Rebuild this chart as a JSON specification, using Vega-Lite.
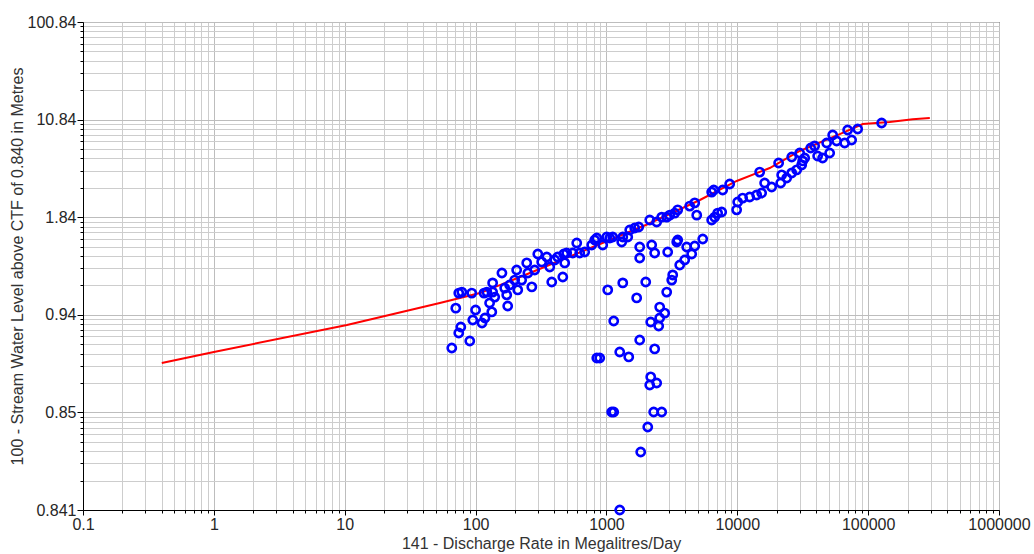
{
  "$schema": "https://vega.github.io/schema/vega-lite/v6.json",
  "width": 916,
  "height": 488,
  "autosize": {"type": "none"},
  "padding": {"left": 83, "top": 22, "right": 35, "bottom": 44},
  "background": "white",
  "config": {
    "view": {"stroke": "#000000", "strokeWidth": 1},
    "axis": {
      "labelFont": "Liberation Sans",
      "titleFont": "Liberation Sans",
      "labelFontSize": 16,
      "titleFontSize": 16,
      "labelColor": "#262626",
      "titleColor": "#333333",
      "titleFontWeight": "normal"
    }
  },
  "datasets": {
    "curve": [
      {"Q": 0.40, "h": 0.0321}, {"Q": 1.0, "h": 0.0416}, {"Q": 10.4, "h": 0.0787},
      {"Q": 53.3, "h": 0.132}, {"Q": 108, "h": 0.167}, {"Q": 260, "h": 0.268},
      {"Q": 973, "h": 0.557}, {"Q": 2000, "h": 0.832}, {"Q": 5180, "h": 1.50},
      {"Q": 9900, "h": 2.35}, {"Q": 17700, "h": 3.19}, {"Q": 30000, "h": 4.77},
      {"Q": 60700, "h": 7.11}, {"Q": 91000, "h": 9.02}, {"Q": 146000, "h": 9.44},
      {"Q": 219000, "h": 10.1}, {"Q": 296000, "h": 10.4}
    ],
    "obs": [
      {"Q": 65.8, "h": 0.0457}, {"Q": 70.6, "h": 0.117}, {"Q": 74.4, "h": 0.167}, {"Q": 78.5, "h": 0.171},
      {"Q": 93.5, "h": 0.167}, {"Q": 77.1, "h": 0.075}, {"Q": 74.4, "h": 0.0651}, {"Q": 90.3, "h": 0.0539},
      {"Q": 100, "h": 0.112}, {"Q": 95.2, "h": 0.0885}, {"Q": 112, "h": 0.0824}, {"Q": 118, "h": 0.0927},
      {"Q": 133, "h": 0.107}, {"Q": 128, "h": 0.132}, {"Q": 122, "h": 0.171}, {"Q": 116, "h": 0.167},
      {"Q": 135, "h": 0.212}, {"Q": 140, "h": 0.152}, {"Q": 159, "h": 0.268}, {"Q": 167, "h": 0.188},
      {"Q": 176, "h": 0.123}, {"Q": 173, "h": 0.16}, {"Q": 182, "h": 0.202}, {"Q": 199, "h": 0.227},
      {"Q": 206, "h": 0.288}, {"Q": 225, "h": 0.227}, {"Q": 246, "h": 0.34}, {"Q": 251, "h": 0.268},
      {"Q": 269, "h": 0.193}, {"Q": 283, "h": 0.288}, {"Q": 299, "h": 0.42}, {"Q": 320, "h": 0.348},
      {"Q": 350, "h": 0.391}, {"Q": 369, "h": 0.309}, {"Q": 382, "h": 0.217}, {"Q": 403, "h": 0.364},
      {"Q": 424, "h": 0.391}, {"Q": 464, "h": 0.244}, {"Q": 480, "h": 0.34}, {"Q": 497, "h": 0.43},
      {"Q": 210, "h": 0.18}, {"Q": 135, "h": 0.171}, {"Q": 472, "h": 0.42}, {"Q": 553, "h": 0.43},
      {"Q": 593, "h": 0.544}, {"Q": 625, "h": 0.43}, {"Q": 682, "h": 0.44}, {"Q": 772, "h": 0.519},
      {"Q": 814, "h": 0.584}, {"Q": 844, "h": 0.612}, {"Q": 937, "h": 0.519}, {"Q": 1005, "h": 0.627},
      {"Q": 1060, "h": 0.612}, {"Q": 1117, "h": 0.627}, {"Q": 1309, "h": 0.557}, {"Q": 1333, "h": 0.627},
      {"Q": 1455, "h": 0.627}, {"Q": 1507, "h": 0.74}, {"Q": 1645, "h": 0.775}, {"Q": 1765, "h": 0.794},
      {"Q": 1796, "h": 0.495}, {"Q": 1796, "h": 0.382}, {"Q": 1997, "h": 0.217}, {"Q": 2143, "h": 0.936},
      {"Q": 2218, "h": 0.519}, {"Q": 2337, "h": 0.43}, {"Q": 2421, "h": 0.893}, {"Q": 2645, "h": 1.0},
      {"Q": 2888, "h": 1.0}, {"Q": 2939, "h": 0.44}, {"Q": 3045, "h": 1.05}, {"Q": 3326, "h": 1.10},
      {"Q": 3506, "h": 1.19}, {"Q": 3210, "h": 0.256}, {"Q": 3155, "h": 0.227}, {"Q": 3446, "h": 0.557},
      {"Q": 3506, "h": 0.584}, {"Q": 3632, "h": 0.324}, {"Q": 3964, "h": 0.364}, {"Q": 4105, "h": 0.495},
      {"Q": 1023, "h": 0.18}, {"Q": 1333, "h": 0.212}, {"Q": 2888, "h": 0.171}, {"Q": 1137, "h": 0.0864},
      {"Q": 1703, "h": 0.149}, {"Q": 4729, "h": 0.507}, {"Q": 5445, "h": 0.598}, {"Q": 4483, "h": 0.42},
      {"Q": 2553, "h": 0.12}, {"Q": 2788, "h": 0.104}, {"Q": 2553, "h": 0.0927}, {"Q": 2509, "h": 0.0768},
      {"Q": 2180, "h": 0.0844}, {"Q": 1796, "h": 0.0552}, {"Q": 2337, "h": 0.0447}, {"Q": 1264, "h": 0.0416},
      {"Q": 1481, "h": 0.037}, {"Q": 844, "h": 0.0361}, {"Q": 889, "h": 0.0361}, {"Q": 2180, "h": 0.0231},
      {"Q": 2143, "h": 0.0191}, {"Q": 2421, "h": 0.02}, {"Q": 1097, "h": 0.0101}, {"Q": 1137, "h": 0.0101},
      {"Q": 2297, "h": 0.0101}, {"Q": 2645, "h": 0.0101}, {"Q": 2069, "h": 0.00708}, {"Q": 1828, "h": 0.00393},
      {"Q": 1264, "h": 0.001}, {"Q": 4729, "h": 1.40}, {"Q": 4899, "h": 1.05}, {"Q": 6372, "h": 1.81},
      {"Q": 6607, "h": 1.90}, {"Q": 6372, "h": 0.936}, {"Q": 6716, "h": 1.0}, {"Q": 7079, "h": 1.10},
      {"Q": 7603, "h": 1.13}, {"Q": 7734, "h": 1.90}, {"Q": 8748, "h": 2.19}, {"Q": 9886, "h": 1.19},
      {"Q": 10070, "h": 1.43}, {"Q": 10990, "h": 1.57}, {"Q": 12440, "h": 1.61}, {"Q": 14060, "h": 1.69},
      {"Q": 14830, "h": 2.90}, {"Q": 15350, "h": 1.77}, {"Q": 16180, "h": 2.24}, {"Q": 18310, "h": 2.04},
      {"Q": 20700, "h": 3.59}, {"Q": 21470, "h": 2.24}, {"Q": 21840, "h": 2.71}, {"Q": 23850, "h": 2.52},
      {"Q": 26070, "h": 2.84}, {"Q": 26070, "h": 4.14}, {"Q": 28430, "h": 3.05}, {"Q": 29970, "h": 4.55},
      {"Q": 31050, "h": 3.43}, {"Q": 31600, "h": 3.77}, {"Q": 32740, "h": 4.04}, {"Q": 36390, "h": 5.12},
      {"Q": 38990, "h": 5.37}, {"Q": 41120, "h": 4.24}, {"Q": 44870, "h": 4.04}, {"Q": 48190, "h": 5.76},
      {"Q": 50810, "h": 4.55}, {"Q": 53580, "h": 6.95}, {"Q": 57440, "h": 6.04}, {"Q": 66170, "h": 5.76},
      {"Q": 69720, "h": 7.82}, {"Q": 74790, "h": 6.18}, {"Q": 83200, "h": 8.01}, {"Q": 126800, "h": 9.23},
      {"Q": 4329, "h": 1.30}
    ]
  },
  "layer": [
    {
      "data": {"name": "curve"},
      "mark": {"type": "line", "color": "#ff0000", "strokeWidth": 2},
      "encoding": {
        "x": {
          "field": "Q", "type": "quantitative",
          "scale": {"type": "log", "domain": [0.1, 1000000], "nice": false},
          "axis": {
            "orient": "bottom",
            "values": [0.2,0.3,0.4,0.5,0.6,0.7,0.8,0.9,2,3,4,5,6,7,8,9,20,30,40,50,60,70,80,90,200,300,400,500,600,700,800,900,2000,3000,4000,5000,6000,7000,8000,9000,20000,30000,40000,50000,60000,70000,80000,90000,200000,300000,400000,500000,600000,700000,800000,900000],
            "grid": true, "gridColor": "#cdcdcd", "gridWidth": 1,
            "labels": false, "ticks": true, "tickSize": 3, "tickColor": "#000000",
            "domain": false, "title": null
          }
        },
        "y": {
          "field": "h", "type": "quantitative",
          "scale": {"type": "log", "domain": [0.001, 100], "nice": false},
          "axis": {
            "orient": "left",
            "values": [0.002,0.003,0.004,0.005,0.006,0.007,0.008,0.009,0.02,0.03,0.04,0.05,0.06,0.07,0.08,0.09,0.2,0.3,0.4,0.5,0.6,0.7,0.8,0.9,2,3,4,5,6,7,8,9,20,30,40,50,60,70,80,90],
            "grid": true, "gridColor": "#cdcdcd", "gridWidth": 1,
            "labels": false, "ticks": true, "tickSize": 3, "tickColor": "#000000",
            "domain": false, "title": null
          }
        }
      }
    },
    {
      "data": {"name": "obs"},
      "mark": {"type": "point", "shape": "circle", "filled": false, "color": "#0000ff", "strokeWidth": 2.6, "size": 68, "opacity": 1},
      "encoding": {
        "x": {
          "field": "Q", "type": "quantitative",
          "scale": {"type": "log", "domain": [0.1, 1000000], "nice": false},
          "axis": {
            "orient": "bottom",
            "values": [0.1, 1, 10, 100, 1000, 10000, 100000, 1000000],
            "format": "~f",
            "grid": true, "gridColor": "#bdbdbd", "gridWidth": 1,
            "tickSize": 5, "tickColor": "#000000", "domainColor": "#000000",
            "labelPadding": 1, "labelFlush": false, "labelOverlap": false,
            "title": "141 - Discharge Rate in Megalitres/Day", "titlePadding": 3
          }
        },
        "y": {
          "field": "h", "type": "quantitative",
          "scale": {"type": "log", "domain": [0.001, 100], "nice": false},
          "axis": {
            "orient": "left",
            "values": [0.001, 0.01, 0.1, 1, 10, 100],
            "labelExpr": "format(datum.value + 0.84, '.3~f')",
            "grid": true, "gridColor": "#bdbdbd", "gridWidth": 1,
            "tickSize": 6, "tickColor": "#000000", "domainColor": "#000000",
            "labelPadding": 1, "labelFlush": false, "labelOverlap": false,
            "title": "100 - Stream Water Level above CTF of 0.840 in Metres", "titlePadding": 2
          }
        }
      }
    }
  ],
  "resolve": {"axis": {"x": "independent", "y": "independent"}}
}
